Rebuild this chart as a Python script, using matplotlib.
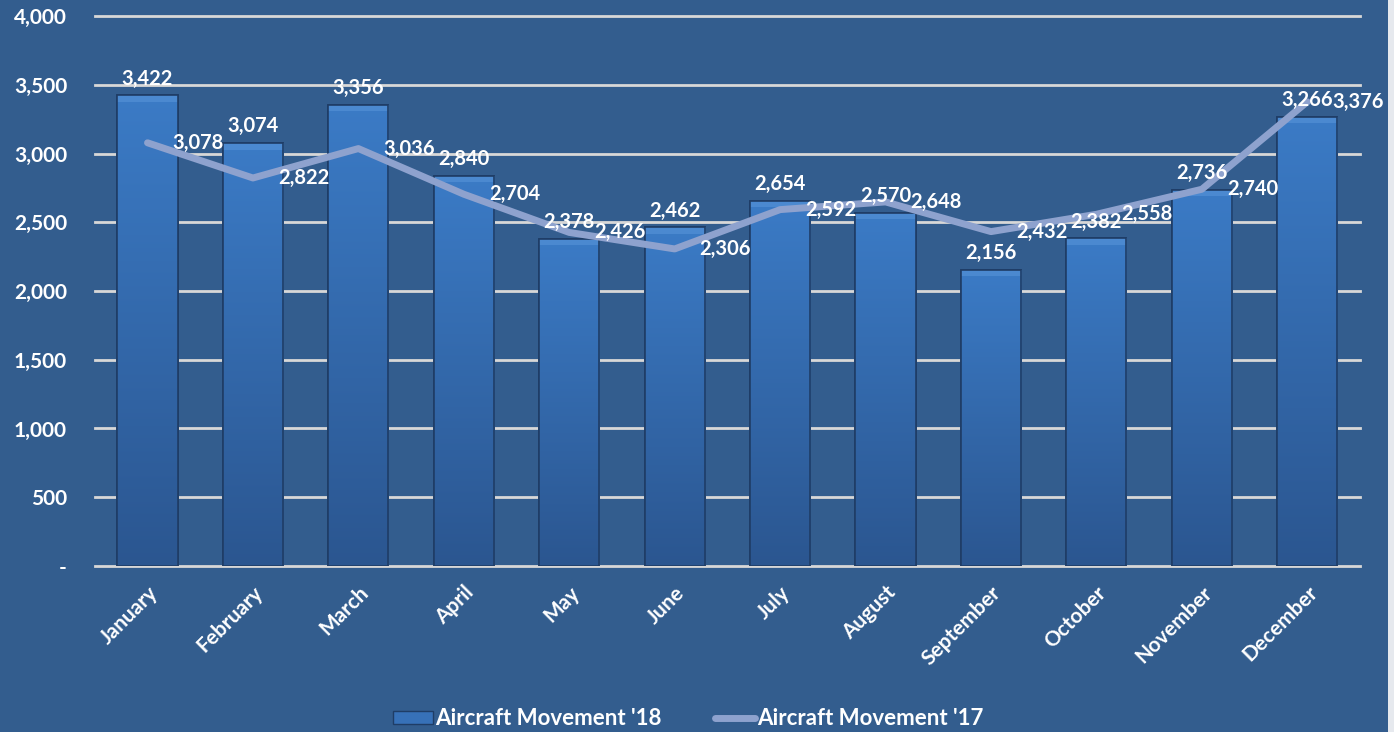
# -*- coding: utf-8 -*-
'''
Aircraft movement, 2018 bars vs 2017 line
'''

import matplotlib
matplotlib.use('Agg')
import matplotlib.pyplot as plt
from matplotlib.patches import Rectangle
from matplotlib.lines import Line2D
from matplotlib.ticker import FuncFormatter
import numpy as np

MESES = ['January', 'February', 'March', 'April', 'May', 'June', 'July',
         'August', 'September', 'October', 'November', 'December']
MOV_18 = [3422, 3074, 3356, 2840, 2378, 2462, 2654, 2570, 2156, 2382, 2736, 3266]
MOV_17 = [3078, 2822, 3036, 2704, 2426, 2306, 2592, 2648, 2432, 2558, 2740, 3376]
Y_TICKS = [0, 500, 1000, 1500, 2000, 2500, 3000, 3500, 4000]

FUNDO = '#335D8E'
COR_LINHA = '#8EA2CE'
FONTE = ['Lato', 'DejaVu Sans']

plt.rcParams['font.family'] = FONTE

fig = plt.figure(figsize=(13.94, 7.32), dpi=100, facecolor=FUNDO)
ax = fig.add_axes([0.068, 0.2268, 0.9076, 0.7513])
ax.set_facecolor(FUNDO)
x = np.arange(len(MESES))

# grade
for v in Y_TICKS:
    ax.axhline(v, color='#D8D8D8', lw=2, zorder=1, clip_on=False)

# barras com degradê
barras = ax.bar(x, MOV_18, width=0.57, color='#3771B8', edgecolor='#1F3D66',
                linewidth=1.2, zorder=2)
grad = np.linspace(1, 0, 256).reshape(-1, 1)
cmap = matplotlib.colors.LinearSegmentedColormap.from_list(
    'barra', ['#2B5690', '#3B7BC6'])
for b in barras:
    x0, w, h = b.get_x(), b.get_width(), b.get_height()
    im = ax.imshow(grad, cmap=cmap, aspect='auto', zorder=2.5,
                   extent=[x0, x0 + w, 0, h], origin='upper')
    im.set_clip_path(b)
    ax.add_patch(Rectangle((x0, h - 45), w, 45, facecolor='#5A96DA',
                           edgecolor='none', alpha=0.55, zorder=2.6,
                           clip_path=b))
    ax.add_patch(Rectangle((x0, 0), w, h, facecolor='none',
                           edgecolor='#1F3D66', lw=1.2, zorder=2.7))

ax.plot(x, MOV_17, color=COR_LINHA, lw=5, zorder=4, solid_capstyle='round')

for i in range(len(MESES)):
    ax.annotate(f'{MOV_18[i]:,}', (x[i], MOV_18[i]), xytext=(0, 5),
                textcoords='offset points', ha='center', va='bottom',
                color='white', fontsize=14.5, fontweight='bold', zorder=5)
    ax.annotate(f'{MOV_17[i]:,}', (x[i], MOV_17[i]), xytext=(18, 0),
                textcoords='offset points', ha='left', va='center',
                color='white', fontsize=14.5, fontweight='bold', zorder=5)

ax.set_xlim(-0.5, len(MESES) - 0.5)
ax.set_ylim(0, 4000)
ax.set_yticks(Y_TICKS)
ax.yaxis.set_major_formatter(FuncFormatter(lambda v, p: '-' if v == 0 else f'{int(v):,}'))
ax.set_xticks(x)
ax.set_xticklabels(MESES, rotation=45, ha='right', rotation_mode='anchor')
for s in ax.spines.values():
    s.set_visible(False)
ax.tick_params(length=0, colors='white', labelsize=15)
ax.tick_params(axis='y', pad=20)
ax.tick_params(axis='x', pad=12)
for t in ax.get_xticklabels() + ax.get_yticklabels():
    t.set_fontweight('bold')

handles = [Rectangle((0, 0), 1, 1, facecolor='#3771B8', edgecolor='#1F3D66'),
           Line2D([0], [0], color=COR_LINHA, lw=5, solid_capstyle='round')]
leg = fig.legend(handles, ["Aircraft Movement '18", "Aircraft Movement '17"],
                 loc='center', bbox_to_anchor=(0.494, 0.018), ncol=2,
                 frameon=False, handlelength=1.8, handleheight=0.5,
                 handletextpad=0.1, columnspacing=2.4,
                 prop={'size': 16, 'weight': 'bold'})
for t in leg.get_texts():
    t.set_color('white')

fig.patches.append(Rectangle((0.9957, 0), 0.0043, 1, transform=fig.transFigure,
                             facecolor='#E6E9EE', edgecolor='none'))

fig.savefig('out.png', dpi=100, facecolor=FUNDO)
